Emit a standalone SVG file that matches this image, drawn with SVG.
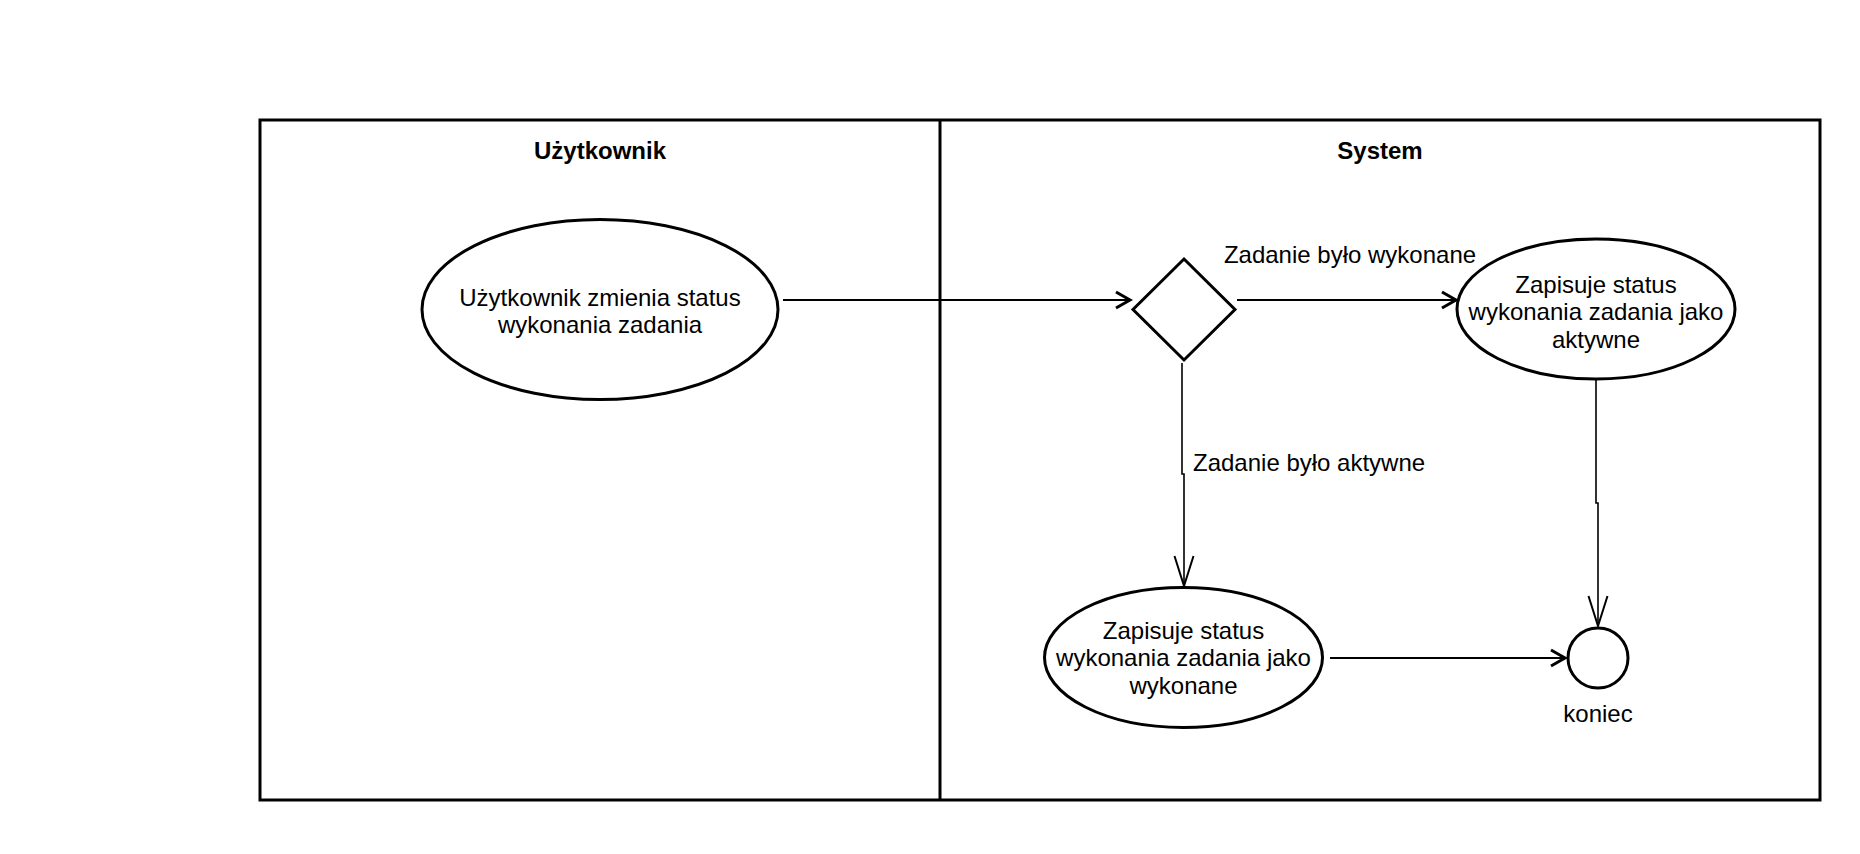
<svg xmlns="http://www.w3.org/2000/svg" width="1860" height="854" viewBox="0 0 1860 854">
<style>
  text { font-family: "Liberation Sans", Arial, sans-serif; font-size: 24px; fill: #000; }
  .hdr { font-weight: bold; text-anchor: middle; }
  .c { text-anchor: middle; }
  .shape { fill: #fff; stroke: #000; stroke-width: 3; }
  .lane { fill: none; stroke: #000; stroke-width: 3; }
  .h { fill: none; stroke: #000; stroke-width: 2; }
  .v { fill: none; stroke: #000; stroke-width: 1.6; }
  .ah { fill: none; stroke: #000; stroke-width: 3; stroke-linejoin: miter; }
  .av { fill: none; stroke: #000; stroke-width: 2; }
</style>
<rect width="1860" height="854" fill="#fff"/>
<g id="lanes">
  <rect class="lane" x="260" y="120" width="1560" height="680"/>
  <line class="lane" x1="940" y1="120" x2="940" y2="800"/>
  <text class="hdr" x="600" y="159">Użytkownik</text>
  <text class="hdr" x="1380" y="159">System</text>
</g>
<g id="connectors">
  <path class="h" d="M783,300 H1130"/>
  <path class="ah" d="M1116,292 L1130,300 L1116,308"/>
  <path class="h" d="M1237,300 H1456"/>
  <path class="ah" d="M1442,292 L1456,300 L1442,308"/>
  <path class="v" d="M1182,363 V474 H1184 V586"/>
  <path class="av" d="M1174.5,556 L1184,586 L1193.5,556"/>
  <path class="v" d="M1596,380 V503 H1598 V626"/>
  <path class="av" d="M1588.5,596 L1598,626 L1607.5,596"/>
  <path class="h" d="M1330,658 H1565"/>
  <path class="ah" d="M1551,650 L1565,658 L1551,666"/>
  <text x="1350" y="263" class="c">Zadanie było wykonane</text>
  <text x="1193" y="471">Zadanie było aktywne</text>
</g>
<g id="start-activity">
  <ellipse class="shape" cx="600" cy="309.5" rx="178" ry="90"/>
  <text class="c" x="600" y="305.5">Użytkownik zmienia status</text>
  <text class="c" x="600" y="332.5">wykonania zadania</text>
</g>
<g id="decision">
  <polygon class="shape" points="1184,259 1235,309.5 1184,360 1133,309.5"/>
</g>
<g id="save-active">
  <ellipse class="shape" cx="1596" cy="309" rx="139" ry="70"/>
  <text class="c" x="1596" y="292.5">Zapisuje status</text>
  <text class="c" x="1596" y="320">wykonania zadania jako</text>
  <text class="c" x="1596" y="347.5">aktywne</text>
</g>
<g id="save-done">
  <ellipse class="shape" cx="1183.5" cy="657.5" rx="139" ry="70"/>
  <text class="c" x="1183.5" y="638.5">Zapisuje status</text>
  <text class="c" x="1183.5" y="666">wykonania zadania jako</text>
  <text class="c" x="1183.5" y="693.5">wykonane</text>
</g>
<g id="end">
  <circle class="shape" cx="1598" cy="658" r="30"/>
  <text class="c" x="1598" y="721.5">koniec</text>
</g>
</svg>
